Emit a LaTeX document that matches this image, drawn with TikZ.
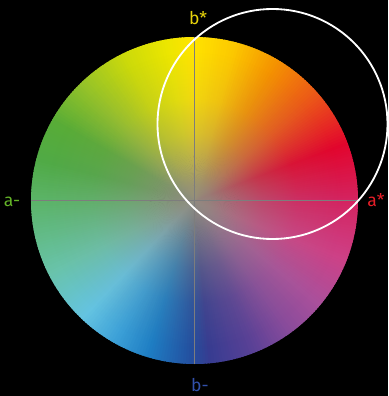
\documentclass[tikz,border=0pt]{standalone}
\usepackage{fontspec}
\setmainfont{Fira Sans}
\usetikzlibrary{fadings}
% hue along the rim
\definecolor{h0}{RGB}{212,35,95}
\definecolor{h20}{RGB}{226,5,45}
\definecolor{h40}{RGB}{235,85,25}
\definecolor{h60}{RGB}{245,150,0}
\definecolor{h75}{RGB}{252,200,0}
\definecolor{h90}{RGB}{255,228,0}
\definecolor{h100}{RGB}{235,230,0}
\definecolor{h115}{RGB}{205,218,10}
\definecolor{h133}{RGB}{150,195,40}
\definecolor{h150}{RGB}{88,172,55}
\definecolor{h165}{RGB}{80,170,70}
\definecolor{h180}{RGB}{92,180,105}
\definecolor{h206}{RGB}{105,195,170}
\definecolor{h226}{RGB}{100,195,225}
\definecolor{h240}{RGB}{60,160,215}
\definecolor{h253}{RGB}{30,125,195}
\definecolor{h268}{RGB}{35,80,160}
\definecolor{h275}{RGB}{55,60,145}
\definecolor{h291}{RGB}{90,65,150}
\definecolor{h305}{RGB}{135,75,155}
\definecolor{h320}{RGB}{170,80,155}
\definecolor{h338}{RGB}{205,65,135}
\definecolor{h360}{RGB}{212,35,95}
\definecolor{axisgray}{RGB}{125,125,125}
\definecolor{centergray}{RGB}{145,140,128}
\definecolor{labyellow}{RGB}{230,210,10}
\definecolor{labgreen}{RGB}{100,180,40}
\definecolor{labred}{RGB}{230,30,40}
\definecolor{labblue}{RGB}{50,80,170}
% the fading box of 1cm is the radius of the wheel
\pgfdeclareradialshading{wheelshade}{\pgfpoint{0bp}{0bp}}{color(0bp)=(black!3); color(2.3bp)=(black!12); color(6.2bp)=(black!40); color(10.2bp)=(black!65); color(15.6bp)=(black!88); color(22.7bp)=(black); color(50bp)=(black)}
\pgfdeclarefading{wheelfade}{\pgfuseshading{wheelshade}}

\begin{document}
\begin{tikzpicture}[x=0.05cm, y=0.05cm,
    axis/.style={draw=axisgray, line width=1.8pt},
    ring/.style={draw=white, line width=2.6pt},
    lab/.style={font=\fontsize{25}{30}\selectfont}]
        % background
        \path[fill=black](-194.5,-195.5)rectangle(193.5,200.5);
        % hue wheel
        \foreach \a/\b in {0/20,20/40,40/60,60/75,75/90,90/100,100/115,115/133,133/150,150/165,165/180,180/206,206/226,226/240,240/253,253/268,268/275,275/291,291/305,305/320,320/338,338/360}
        {
            \pgfmathtruncatemacro\n{\b-\a-1}
            \foreach \t in {0,...,\n}
            {
                \pgfmathtruncatemacro\p{100*\t/(\b-\a)}
                \pgfmathsetmacro\s{\a+\t}
                \path[fill=h\b!\p!h\a](0,0)--(\s:163.5)arc[start angle=\s, end angle=\s+1.6, radius=163.5]--cycle;
            }
        }
        % grey towards the centre
        \path[fill=centergray, path fading=wheelfade](0,0)circle[radius=163.5];
        % axis
        \coordinate(aneg)at(180:163.5);
        \coordinate(apos)at(0:163.5);
        \coordinate(bpos)at(90:163.5);
        \coordinate(bneg)at(270:163.5);
        \path[axis](aneg)--(apos);
        \path[axis](bneg)--(bpos);
        % circle
        \path[ring](78,76.5)circle[radius=115];
        % labels
        \node[lab, text=labyellow](bstar)at(3.5,182){b*};
        \node[lab, text=labgreen](aminus)at(-182.5,-1.2){a-};
        \node[lab, text=labred](astar)at(181.5,0.5){a*};
        \node[lab, text=labblue](bminus)at(5.5,-185){b-};
    \end{tikzpicture}
\end{document}
